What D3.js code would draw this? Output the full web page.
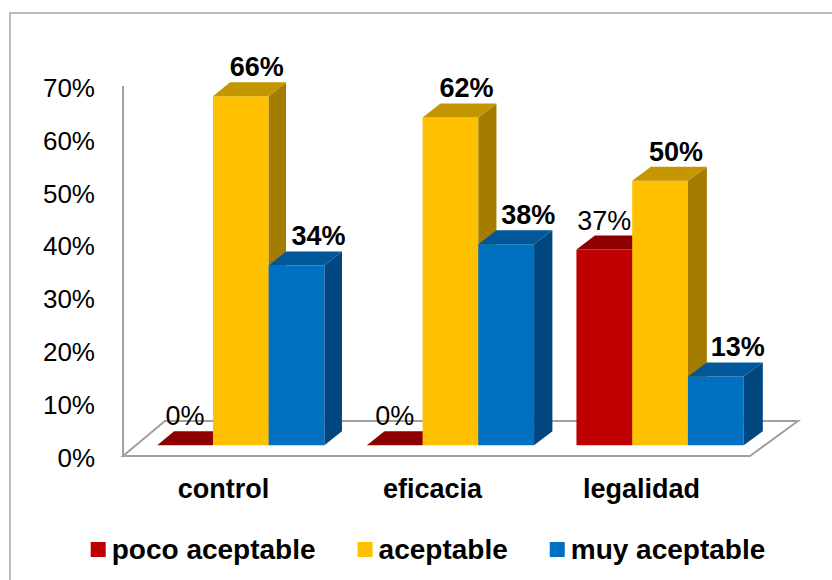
<!DOCTYPE html>
<html>
<head>
<meta charset="utf-8">
<script src="https://cdn.jsdelivr.net/npm/d3@7"></script>
<style>
  html, body { margin: 0; padding: 0; background: #ffffff; }
  svg { display: block; font-family: "Liberation Sans", Arial, sans-serif; }
</style>
</head>
<body>
<svg id="chart" width="832" height="580"></svg>
<script>
// ---- data ----
const categories = ["control", "eficacia", "legalidad"];
const seriesNames = ["poco aceptable", "aceptable", "muy aceptable"];
const pocoAceptable = [0, 0, 37];
const aceptable = [66, 62, 50];
const muyAceptable = [34, 38, 13];
const yTicks = [0, 10, 20, 30, 40, 50, 60, 70];
const tickLabels = ["0%", "10%", "20%", "30%", "40%", "50%", "60%", "70%"];

const seriesValues = [pocoAceptable, aceptable, muyAceptable];

// ---- styles ----
const faceColors = [
  { front: "#C00000", top: "#8E0000", side: "#7A0000" },
  { front: "#FFC000", top: "#C49600", side: "#A47C00" },
  { front: "#0070C0", top: "#00589A", side: "#00467F" }
];
const labelBold = [false, true, true];
const labelDx = [0, 16, 22];
const gridGray = "#a0a0a0";

const svg = d3.select("#chart");

// frame
svg.append("rect")
  .attr("x", 10).attr("y", 13)
  .attr("width", 840).attr("height", 600)
  .attr("fill", "none").attr("stroke", "#a6a6a6").attr("stroke-width", 1.5);

// ---- scales (front plane) ----
const x0 = d3.scaleBand().domain(categories).range([123, 750]).paddingInner(0).paddingOuter(0);
const x1 = d3.scaleBand().domain(d3.range(seriesNames.length))
  .range([0, x0.bandwidth()]).paddingInner(0).paddingOuter(0.38);
const y = d3.scaleLinear().domain([0, 70]).range([456, 86]);

// depth (slight perspective)
const depthDy = 35;
const depthDx = d3.scaleLinear().domain([123, 750]).range([42, 48]);
const t0 = 0.31, t1 = 0.71;
function P(xx, yy, t) { return [xx + t * depthDx(xx), yy - t * depthDy]; }
const line = d3.line();

// floor
const fl = [P(123, y(0), 0), P(750, y(0), 0), P(750, y(0), 1), P(123, y(0), 1)];
svg.append("path")
  .attr("d", line(fl) + "Z")
  .attr("fill", "#ffffff").attr("stroke", gridGray).attr("stroke-width", 2)
  .attr("stroke-linejoin", "miter");

// vertical axis line
svg.append("line")
  .attr("x1", 123).attr("x2", 123).attr("y1", y(70)).attr("y2", y(0))
  .attr("stroke", gridGray).attr("stroke-width", 2);

// y axis tick labels
const yAxis = d3.axisLeft(y).tickValues(yTicks)
  .tickFormat((d, i) => tickLabels[i]).tickSize(0).tickPadding(0);
const gAxis = svg.append("g").attr("transform", "translate(95,2)").call(yAxis);
gAxis.select(".domain").remove();
gAxis.selectAll("text")
  .attr("font-family", "Liberation Sans, Arial, sans-serif")
  .attr("font-size", 26).attr("fill", "#000");

// category labels
svg.selectAll("text.cat").data(categories).enter().append("text")
  .attr("class", "cat")
  .attr("x", d => x0(d) + x0.bandwidth() / 2 - 4)
  .attr("y", 498)
  .attr("text-anchor", "middle")
  .attr("font-size", 27).attr("font-weight", "bold").attr("fill", "#000")
  .text(d => d);

// bars (left to right painter's order)
const bars = [];
categories.forEach((c, ci) => {
  seriesNames.forEach((s, si) => {
    bars.push({ ci, si, c, v: seriesValues[si][ci] });
  });
});

const gBars = svg.append("g");
bars.forEach(b => {
  const a = x0(b.c) + x1(b.si);
  const e = a + x1.bandwidth();
  const yb = y(0), yt = y(b.v);
  const col = faceColors[b.si];
  const front = [P(a, yb, t0), P(e, yb, t0), P(e, yt, t0), P(a, yt, t0)];
  const top = [P(a, yt, t0), P(e, yt, t0), P(e, yt, t1), P(a, yt, t1)];
  const side = [P(e, yt, t0), P(e, yt, t1), P(e, yb, t1), P(e, yb, t0)];
  if (b.v > 0) {
    gBars.append("path").attr("d", line(front) + "Z").attr("fill", col.front);
    gBars.append("path").attr("d", line(side) + "Z").attr("fill", col.side);
  }
  gBars.append("path").attr("d", line(top) + "Z").attr("fill", col.top);
});

// data labels
bars.forEach(b => {
  const a = x0(b.c) + x1(b.si);
  const e = a + x1.bandwidth();
  const fc = P((a + e) / 2, y(b.v), t0);
  const back = P((a + e) / 2, y(b.v), t1);
  svg.append("text")
    .attr("x", fc[0] + labelDx[b.si])
    .attr("y", back[1] - 6)
    .attr("text-anchor", "middle")
    .attr("font-size", 27)
    .attr("font-weight", labelBold[b.si] ? "bold" : "normal")
    .attr("fill", "#000")
    .text(b.v + "%");
});

// legend
const legend = svg.append("g");
let cx = 0;
const gap = 42;
seriesNames.forEach((s, i) => {
  const g = legend.append("g");
  g.append("rect").attr("x", 0).attr("y", 542).attr("width", 15).attr("height", 15)
    .attr("fill", faceColors[i].front);
  const t = g.append("text").attr("x", 21).attr("y", 559)
    .attr("font-size", 28).attr("font-weight", "bold").attr("fill", "#000").text(s);
  const w = 21 + t.node().getComputedTextLength();
  g.attr("transform", `translate(${cx},0)`);
  cx += w + gap;
});
const totalW = cx - gap;
legend.attr("transform", `translate(${428 - totalW / 2},0)`);
</script>
</body>
</html>
